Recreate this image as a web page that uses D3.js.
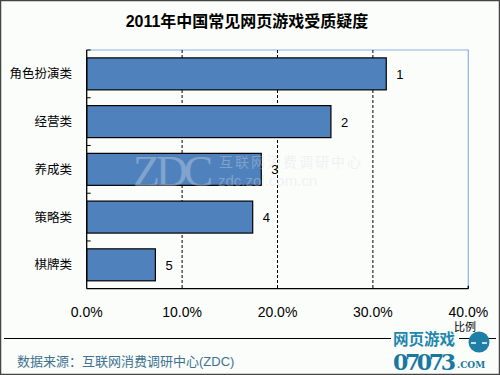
<!DOCTYPE html>
<html><head><meta charset="utf-8">
<script src="https://cdn.jsdelivr.net/npm/d3@7"></script>
<style>body{margin:0;background:#fff;}svg{display:block;}</style>
</head><body>
<svg id="c" width="500" height="375"></svg>
<script>
const categories = ["角色扮演类","经营类","养成类","策略类","棋牌类"];
const values = [31.4, 25.6, 18.3, 17.4, 7.2];
const ranks = ["1","2","3","4","5"];
const xTicks = [0,10,20,30,40];
const title = "2011年中国常见网页游戏受质疑度";
const source = "数据来源：互联网消费调研中心(ZDC)";
const axisTitle = "比例";

const svg = d3.select("#c");
const font = "'Liberation Sans', Arial, 'Noto Sans CJK SC', sans-serif";
svg.append("rect").attr("x",0.5).attr("y",0.5).attr("width",499).attr("height",374)
  .attr("fill","#fbfdfb").attr("stroke","#444").attr("stroke-width",1.5);

const L=86.7, R=468.3, T=50, B=288.7;
const x = d3.scaleLinear().domain([0,40]).range([L,R]);
const y = d3.scaleBand().domain(categories).range([T,B]).paddingInner(0.33).paddingOuter(0.165);
const yb = d3.scaleLinear().domain([0,categories.length]).range([T,B]);

svg.append("text").attr("x",247).attr("y",27).attr("text-anchor","middle")
  .attr("font-family",font).attr("font-size",16).attr("font-weight","bold").attr("fill","#000").text(title);

// plot border (top & right light blue)
svg.append("path").attr("d",`M${L},${T}H${R}V${B}`).attr("fill","none").attr("stroke","#8fb0e6").attr("stroke-width",1.2);

// gridlines
svg.append("g").selectAll("line").data(xTicks.filter(d=>d>0&&d<40)).join("line")
  .attr("x1",d=>x(d)).attr("x2",d=>x(d)).attr("y1",T).attr("y2",B)
  .attr("stroke","#000").attr("stroke-dasharray","3,2").attr("stroke-width",1);

// bars
svg.append("g").selectAll("rect").data(values).join("rect")
  .attr("x",L).attr("y",(d,i)=>y(categories[i]))
  .attr("width",d=>x(d)-L).attr("height",y.bandwidth())
  .attr("fill","#4f81bd").attr("stroke","#000").attr("stroke-width",1.2);

// watermark
const wm = svg.append("g").attr("opacity",0.35).attr("fill","#dfe6ee");
wm.append("text").attr("x",133).attr("y",186).attr("font-family","'Liberation Serif', serif").attr("font-size",44).attr("textLength",80).text("ZDC");
wm.append("text").attr("x",219).attr("y",167).attr("font-family",font).attr("font-size",14).attr("letter-spacing",2).attr("fill","#d8dde4").text("互联网消费调研中心");
wm.append("text").attr("x",218).attr("y",186).attr("font-family",font).attr("font-size",15).attr("fill","#d8dde4").text("zdc.zol.com.cn");

// value labels
svg.append("g").selectAll("text").data(values).join("text")
  .attr("x",d=>x(d)+10).attr("y",(d,i)=>y(categories[i])+y.bandwidth()/2+5)
  .attr("font-family",font).attr("font-size",13).attr("fill","#000").text((d,i)=>ranks[i]);

// axes
svg.append("line").attr("x1",L).attr("x2",L).attr("y1",T).attr("y2",B).attr("stroke","#000").attr("stroke-width",1.3);
svg.append("line").attr("x1",L).attr("x2",R).attr("y1",B).attr("y2",B).attr("stroke","#000").attr("stroke-width",1.3);
svg.append("g").selectAll("line").data(d3.range(categories.length)).join("line")
  .attr("x1",L).attr("x2",L+4).attr("y1",d=>yb(d)).attr("y2",d=>yb(d)).attr("stroke","#000");
svg.append("line").attr("x1",R).attr("x2",R).attr("y1",B-3).attr("y2",B).attr("stroke","#000").attr("stroke-width",1.3);

// category labels
svg.append("g").selectAll("text").data(categories).join("text")
  .attr("x",72).attr("y",d=>y(d)+y.bandwidth()/2+4.5).attr("text-anchor","end")
  .attr("font-family",font).attr("font-size",12.5).attr("fill","#000").text(d=>d);

// x tick labels
svg.append("g").selectAll("text").data(xTicks).join("text")
  .attr("x",d=>x(d)).attr("y",317).attr("text-anchor","middle")
  .attr("font-family",font).attr("font-size",14).attr("fill","#000").text(d=>d.toFixed(1)+"%");

svg.append("text").attr("x",454).attr("y",331).attr("font-family",font).attr("font-size",11).attr("fill","#000").text(axisTitle);

// separator
svg.append("line").attr("x1",4).attr("x2",496).attr("y1",338.5).attr("y2",338.5).attr("stroke","#000").attr("stroke-width",1);

svg.append("text").attr("x",17).attr("y",366).attr("font-family",font).attr("font-size",13).attr("fill","#3e7290").text(source);

// logo
const lg = svg.append("g");
lg.append("rect").attr("x",391).attr("y",332).attr("width",68).attr("height",13).attr("fill","#fbfdfb");
lg.append("text").attr("x",393).attr("y",345).attr("font-family","'Noto Sans CJK SC', sans-serif").attr("font-weight","bold").attr("font-size",15.5).attr("fill","#1f86ad").text("网页游戏");
lg.append("circle").attr("cx",479).attr("cy",342).attr("r",10.5).attr("fill","#1f7ea6");
lg.append("line").attr("x1",471).attr("x2",476).attr("y1",343).attr("y2",343).attr("stroke","#fff").attr("stroke-width",1.5);
lg.append("line").attr("x1",482).attr("x2",487).attr("y1",343).attr("y2",343).attr("stroke","#fff").attr("stroke-width",1.5);
lg.append("text").attr("x",393).attr("y",370).attr("font-family","'DejaVu Serif', serif").attr("font-weight","bold").attr("font-size",22).attr("textLength",63).attr("fill","#1a78a0").text("07073");
lg.append("text").attr("x",457).attr("y",368).attr("font-family","'DejaVu Serif', serif").attr("font-weight","bold").attr("font-size",9).attr("fill","#1a78a0").text(".COM");
</script>
</body></html>
